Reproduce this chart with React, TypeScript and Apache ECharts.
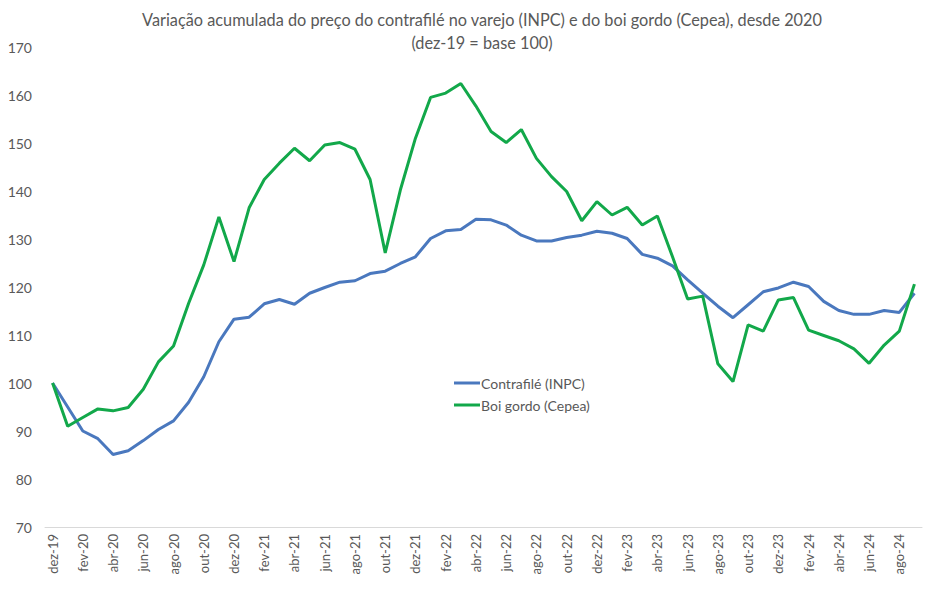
import React, { useEffect, useRef } from "react";
import * as echarts from "echarts";

const months = [
  "dez-19","jan-20","fev-20","mar-20","abr-20","mai-20","jun-20","jul-20","ago-20","set-20","out-20","nov-20",
  "dez-20","jan-21","fev-21","mar-21","abr-21","mai-21","jun-21","jul-21","ago-21","set-21","out-21","nov-21",
  "dez-21","jan-22","fev-22","mar-22","abr-22","mai-22","jun-22","jul-22","ago-22","set-22","out-22","nov-22",
  "dez-22","jan-23","fev-23","mar-23","abr-23","mai-23","jun-23","jul-23","ago-23","set-23","out-23","nov-23",
  "dez-23","jan-24","fev-24","mar-24","abr-24","mai-24","jun-24","jul-24","ago-24","set-24",
];

const contrafile = [
  100, 95.0, 90.0, 88.4, 85.1, 85.9, 88.0, 90.3, 92.1, 96.0, 101.3, 108.6,
  113.3, 113.7, 116.5, 117.4, 116.4, 118.7, 119.9, 121.0, 121.3, 122.8, 123.3, 124.9,
  126.3, 130.1, 131.7, 132.0, 134.1, 134.0, 132.9, 130.8, 129.6, 129.6, 130.3, 130.8,
  131.6, 131.2, 130.1, 126.8, 126.0, 124.4, 121.5, 118.7, 116.0, 113.6, 116.3, 119.0,
  119.8, 121.0, 120.1, 117.0, 115.1, 114.3, 114.3, 115.1, 114.7, 118.7,
];

const boiGordo = [
  100, 91.0, 92.8, 94.6, 94.2, 94.9, 98.7, 104.4, 107.7, 116.6, 124.6, 134.6,
  125.3, 136.5, 142.4, 145.8, 148.9, 146.3, 149.6, 150.1, 148.7, 142.4, 127.1, 140.2,
  151.0, 159.5, 160.4, 162.4, 157.7, 152.4, 150.1, 152.8, 146.8, 143.0, 139.9, 133.8,
  137.8, 135.0, 136.6, 132.9, 134.8, 126.3, 117.5, 118.1, 104.0, 100.3, 112.1, 110.8,
  117.3, 117.8, 111.0, 109.9, 108.8, 107.1, 104.1, 107.9, 110.8, 120.6,
];

const titleLine1 =
  "Variação acumulada do preço do contrafilé no varejo (INPC) e do boi gordo (Cepea), desde 2020";
const titleLine2 = "(dez-19 = base 100)";

const FONT = "Lato, 'Open Sans', sans-serif";

export default function App() {
  const ref = useRef<HTMLDivElement>(null);
  useEffect(() => {
    if (!ref.current) return;
    const chart = echarts.init(ref.current, undefined, { renderer: "svg" });
    const titleStyle = {
      fontFamily: FONT,
      fontSize: 16.3,
      fontWeight: "normal",
      color: "#595959",
    };
    chart.setOption({
      animation: false,
      backgroundColor: "#ffffff",
      textStyle: { fontFamily: FONT },
      title: [
        { text: titleLine1, left: 477, top: 6, textAlign: "center", textStyle: titleStyle },
        { text: titleLine2, left: 477, top: 29, textAlign: "center", textStyle: titleStyle },
      ],
      legend: {
        orient: "vertical",
        left: 449,
        top: 371,
        itemGap: 8,
        itemWidth: 26,
        itemHeight: 3,
        icon: "rect",
        textStyle: { fontFamily: FONT, fontSize: 14, color: "#595959", padding: [0, 0, 0, -4] },
        data: ["Contrafilé (INPC)", "Boi gordo (Cepea)"],
      },
      grid: { left: 45, right: 26, top: 47, bottom: 62, containLabel: false },
      xAxis: {
        type: "category",
        data: months,
        boundaryGap: true,
        axisLine: { show: true, lineStyle: { color: "#d9d9d9", width: 1 } },
        axisTick: { show: false },
        axisLabel: {
          rotate: 90,
          interval: 1,
          fontFamily: FONT,
          fontSize: 13,
          color: "#595959",
          margin: 7,
        },
        splitLine: { show: false },
      },
      yAxis: {
        type: "value",
        min: 70,
        max: 170,
        interval: 10,
        axisLine: { show: false },
        axisTick: { show: false },
        splitLine: { show: false },
        axisLabel: { fontFamily: FONT, fontSize: 14, color: "#595959", margin: 13 },
      },
      series: [
        {
          name: "Contrafilé (INPC)",
          type: "line",
          data: contrafile,
          symbol: "none",
          lineStyle: { color: "#4A78BE", width: 3 },
          itemStyle: { color: "#4A78BE" },
        },
        {
          name: "Boi gordo (Cepea)",
          type: "line",
          data: boiGordo,
          symbol: "none",
          lineStyle: { color: "#12A84A", width: 3 },
          itemStyle: { color: "#12A84A" },
        },
      ],
    });
    return () => chart.dispose();
  }, []);
  return <div ref={ref} style={{ width: 948, height: 589, position: "absolute", left: 0, top: 0 }} />;
}
